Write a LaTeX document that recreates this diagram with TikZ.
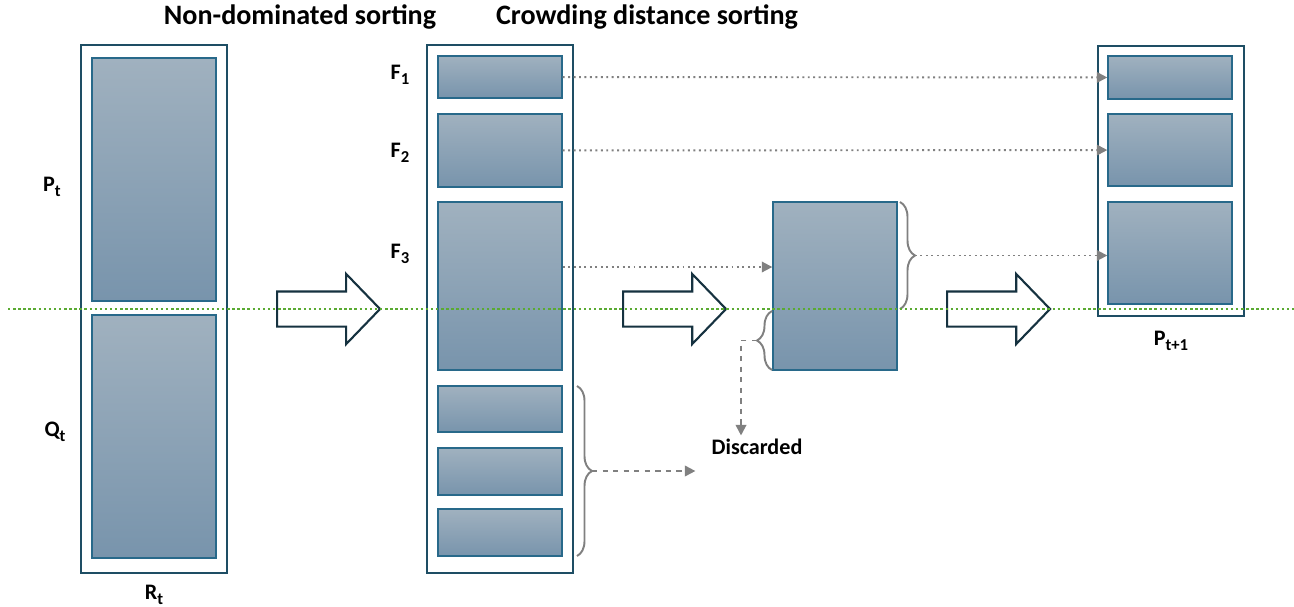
\documentclass[tikz,border=0pt]{standalone}
\usepackage{fontspec}
\setmainfont{Carlito}
\usetikzlibrary{positioning,arrows.meta,shapes.arrows,decorations.pathreplacing}

\definecolor{boxtop}{RGB}{160,177,191}
\definecolor{boxbot}{RGB}{120,148,172}
\definecolor{popedge}{RGB}{40,105,138}
\definecolor{framecol}{RGB}{30,78,100}
\definecolor{arrowcol}{RGB}{22,50,64}
\definecolor{midline}{RGB}{90,170,50}

\newcommand{\sub}[1]{\raisebox{-0.45ex}{\fontsize{9.5}{10}\selectfont #1}}

\begin{document}
\begin{tikzpicture}[
x=0.02cm, y=-0.02cm,
>={Triangle[length=6pt,width=6pt]},
every node/.style={font=\fontsize{12.6}{14}\selectfont\bfseries},
frame/.style={
draw=framecol,
line width=1.1pt,
fill=white,
minimum width=2.92cm,
inner sep=0
},
pop/.style={
draw=popedge,
line width=0.8pt,
top color=boxtop,
bottom color=boxbot,
minimum width=2.48cm,
inner sep=0
},
title/.style={font=\fontsize{16}{18}\selectfont\bfseries},
fat/.style={
single arrow,
draw=arrowcol,
line width=1.2pt,
fill=white,
inner xsep=0,
inner ysep=0.33cm,
minimum height=2.06cm,
single arrow head extend=0.35cm,
single arrow tip angle=92,
anchor=tail
},
link/.style={->,gray,dotted,line width=1.1pt},
drop/.style={->,gray,dashed,line width=1.1pt},
curly/.style={decorate,decoration={brace,amplitude=0.3cm},gray,line width=1.1pt}
]
\useasboundingbox (0,0) rectangle (1294,606);

% Titles
\node[title] (t1) at (300,17) {Non-dominated sorting};
\node[title] (t2) at (647,17) {Crowding distance sorting};

% R_t = P_t + Q_t
\node[frame, minimum height=10.56cm] (rt) at (154,309) {};
\node[pop, minimum height=4.86cm] (pt) at (154,179.5) {};
\node[pop, minimum height=4.86cm] (qt) at (154,436.5) {};
\node (ptl) at (52,187) {P\sub{t}};
\node (qtl) at (55,432) {Q\sub{t}};
\node[below=0.1cm of rt] (rtl) {R\sub{t}};

% Fronts
\node[frame, minimum height=10.56cm] (fr) at (500,309) {};
\node[pop, minimum height=0.84cm] (f1) at (500,77) {};
\node[pop, minimum height=1.46cm] (f2) at (500,150.5) {};
\node[pop, minimum height=3.36cm] (f3) at (500,286) {};
\node[pop, minimum height=0.92cm] (r1) at (500,409) {};
\node[pop, minimum height=0.94cm] (r2) at (500,471.5) {};
\node[pop, minimum height=0.94cm] (r3) at (500,532.5) {};
\node (f1l) at (400,75) {F\sub{1}};
\node (f2l) at (400,153) {F\sub{2}};
\node (f3l) at (400,254) {F\sub{3}};

% Sorted F_3
\node[pop, minimum height=3.36cm] (sel) at (835,286) {};

% P_{t+1}
\node[frame, minimum height=5.4cm] (nx) at (1171,181) {};
\node[pop, minimum height=0.86cm] (o1) at (1170,77.5) {};
\node[pop, minimum height=1.44cm] (o2) at (1170,150) {};
\node[pop, minimum height=2.04cm] (o3) at (1170,253) {};
\node[below=0.16cm of nx] (nxl) {P\sub{t+1}};

\node (disc) at (757,447) {Discarded};

% Big arrows
\node[fat] (a1) at (276,309) {};
\node[fat] (a2) at (622,309) {};
\node[fat] (a3) at (946,309) {};

% Braces
\draw[curly] (577,386) -- (577,556) coordinate[midway,xshift=0.3cm] (b1);
\draw[curly] (772,370) -- (772,311) coordinate[midway,xshift=-0.3cm] (b2);
\draw[curly] (900,202) -- (900,309) coordinate[midway,xshift=0.3cm] (b3);

% Connectors
\draw[link] (f1) -- (o1);
\draw[link] (f2) -- (o2);
\coordinate (f3o) at ([yshift=0.38cm]f3.east);
\draw[link] (f3o) -- (f3o -| sel.west);
\draw[link] (b3) -- (b3 -| o3.west);
\draw[drop] (b1) -- ([xshift=-0.2cm]b1 -| disc.west);
\draw[drop] (b2) -| ([xshift=-0.32cm,yshift=-0.05cm]disc.north);

% Dividing line
\draw[midline, line width=1.4pt, dash pattern=on 1.4pt off 1.5pt] (8,309) -- (1294,309);

\end{tikzpicture}
\end{document}
